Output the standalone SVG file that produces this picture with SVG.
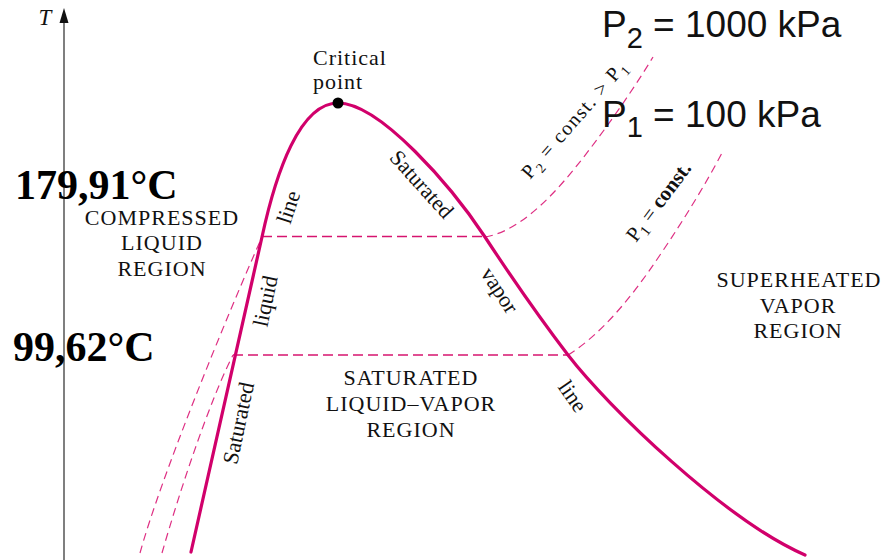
<svg xmlns="http://www.w3.org/2000/svg" width="883" height="560" viewBox="0 0 883 560">
<defs>
<style>
.serif{font-family:"Liberation Serif","Times New Roman",serif;fill:#111}
.region{font-size:22px;letter-spacing:1px;text-anchor:middle}
.rot{font-size:22px}
.temp{font-size:42px;font-weight:bold;fill:#000}
.sans{font-family:"Liberation Sans",Arial,sans-serif;fill:#111;font-size:37px}
.dome{fill:none;stroke:#d1006b;stroke-width:3.2;stroke-linecap:round;stroke-linejoin:round}
.dash{fill:none;stroke:#d6146f;stroke-width:1.3;stroke-dasharray:10 5}
.dashc{fill:none;stroke:#de2f83;stroke-width:1.2;stroke-dasharray:8 5}
</style>
</defs>
<rect width="883" height="560" fill="#fff"/>

<g id="axis">
<line x1="64" y1="560" x2="64" y2="22" stroke="#555" stroke-width="1.5"/>
<path d="M59.5,23 L64,8 L68.5,23 Z" fill="#111"/>
<text class="serif" x="45" y="25" font-size="23" font-style="italic" text-anchor="middle">T</text>
</g>

<g id="connectors">
<path class="dash" d="M262,236.5 L485,236.5"/>
<path class="dash" d="M233,355 L568,355"/>
<path class="dashc" d="M485,237 C515,232 545,205 575,168 C600,137 630,95 653,57"/>
<path class="dashc" d="M568,355 C600,335 630,300 660,255 C685,218 705,185 722,153"/>
<path class="dashc" d="M140,553 C160,480 225,320 262,237"/>
<path class="dashc" d="M162,553 C180,490 210,400 233,355"/>
<path class="dome" d="M191,552 L262,237 C276,172 300,103 338,103 C380,103 452,187 485,237 C510,275 545,325 568,355 C608,407 725,520 805,555"/>
</g>

<g id="critical-point">
<circle cx="338" cy="103" r="5.5" fill="#000"/>
<text class="serif" x="313" y="65" font-size="22" letter-spacing="1">Critical</text>
<text class="serif" x="313" y="89" font-size="22" letter-spacing="1">point</text>
</g>

<g id="temperatures">
<text class="serif temp" x="15" y="199">179,91°C</text>
<text class="serif temp" x="13" y="361">99,62°C</text>
</g>

<g id="pressures">
<text class="sans" x="602" y="37">P<tspan font-size="29" dy="11">2</tspan><tspan dy="-11"> = 1000 kPa</tspan></text>
<text class="sans" x="602" y="127">P<tspan font-size="29" dy="10">1</tspan><tspan dy="-10"> = 100 kPa</tspan></text>
</g>

<g id="compressed-liquid-region">
<text class="serif region" x="162" y="225">COMPRESSED</text>
<text class="serif region" x="162" y="250">LIQUID</text>
<text class="serif region" x="162" y="276">REGION</text>
</g>

<g id="saturated-region">
<text class="serif region" x="411" y="385">SATURATED</text>
<text class="serif region" x="411" y="411">LIQUID–VAPOR</text>
<text class="serif region" x="411" y="437">REGION</text>
</g>

<g id="superheated-region">
<text class="serif region" x="799" y="287">SUPERHEATED</text>
<text class="serif region" x="798" y="313">VAPOR</text>
<text class="serif region" x="798" y="338">REGION</text>
</g>

<g id="line-labels">
<text class="serif rot" text-anchor="middle" dy="0.35em" transform="translate(238,423) rotate(-78)">Saturated</text>
<text class="serif rot" text-anchor="middle" dy="0.35em" transform="translate(265,301) rotate(-78)">liquid</text>
<text class="serif rot" text-anchor="middle" dy="0.35em" transform="translate(288,207) rotate(-72)">line</text>
<text class="serif rot" text-anchor="middle" dy="0.35em" transform="translate(422,184) rotate(48)">Saturated</text>
<text class="serif rot" text-anchor="middle" dy="0.35em" transform="translate(500,290) rotate(57)">vapor</text>
<text class="serif rot" text-anchor="middle" dy="0.35em" transform="translate(573,396) rotate(55)">line</text>
</g>

<g id="isobar-labels">
<text class="serif" font-size="20" letter-spacing="1.5" transform="translate(530,180) rotate(-49)">P<tspan font-size="14" dy="5">2</tspan><tspan dy="-5"> = const. &gt; P</tspan><tspan font-size="14" dy="5">1</tspan></text>
<text class="serif" font-size="21" transform="translate(636,243) rotate(-53)">P<tspan font-size="15" dy="5">1</tspan><tspan dy="-5"> = </tspan><tspan font-weight="bold">const.</tspan></text>
</g>
</svg>
